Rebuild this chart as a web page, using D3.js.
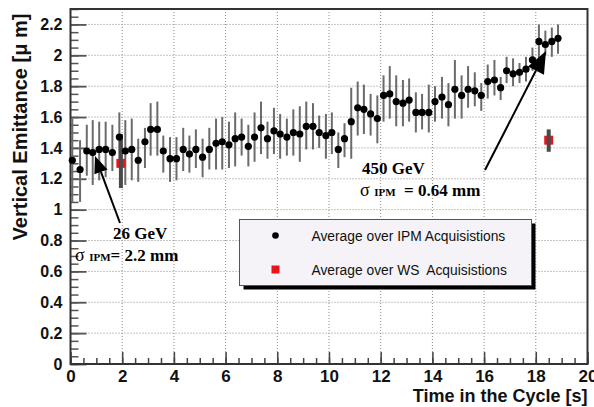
<!DOCTYPE html>
<html>
<head>
<meta charset="utf-8">
<script src="https://cdn.jsdelivr.net/npm/d3@7"></script>
<style>
  body { margin: 0; background: #fff; }
  svg { display: block; }
</style>
</head>
<body>
<div id="my_dataviz"></div>
<script>
// IPM averages: time [s], emittance [um], error bar low / high
const ipmTime = [0.07, 0.37, 0.63, 0.86, 1.11, 1.36, 1.62, 1.89, 2.12, 2.37, 2.62, 2.88, 3.10, 3.36, 3.59, 3.85, 4.10, 4.36, 4.60, 4.85,
  5.11, 5.37, 5.63, 5.87, 6.13, 6.37, 6.62, 6.88, 7.12, 7.37, 7.62, 7.87, 8.11, 8.37, 8.62, 8.87, 9.12, 9.38, 9.62, 9.88,
  10.11, 10.36, 10.60, 10.86, 11.11, 11.35, 11.61, 11.87, 12.11, 12.35, 12.60, 12.86, 13.10, 13.36, 13.60, 13.86, 14.10, 14.37, 14.62, 14.87,
  15.13, 15.38, 15.64, 15.89, 16.14, 16.40, 16.64, 16.87, 17.12, 17.37, 17.62, 17.87, 18.12, 18.37, 18.62, 18.86];
const ipmEmit = [1.32, 1.26, 1.38, 1.37, 1.39, 1.39, 1.37, 1.47, 1.38, 1.39, 1.32, 1.44, 1.52, 1.52, 1.38, 1.33, 1.33, 1.39, 1.36, 1.39,
  1.34, 1.39, 1.43, 1.44, 1.42, 1.46, 1.47, 1.41, 1.47, 1.53, 1.46, 1.51, 1.49, 1.47, 1.50, 1.49, 1.54, 1.54, 1.50, 1.48,
  1.50, 1.39, 1.46, 1.57, 1.66, 1.65, 1.62, 1.59, 1.74, 1.75, 1.70, 1.69, 1.71, 1.63, 1.63, 1.63, 1.70, 1.73, 1.68, 1.78,
  1.74, 1.78, 1.77, 1.74, 1.83, 1.84, 1.79, 1.90, 1.88, 1.89, 1.91, 1.97, 2.09, 2.07, 2.09, 2.11];
const ipmLow = [1.05, 1.05, 1.22, 1.16, 1.19, 1.21, 1.25, 1.31, 1.16, 1.19, 1.18, 1.27, 1.35, 1.35, 1.24, 1.18, 1.19, 1.25, 1.24, 1.27,
  1.21, 1.26, 1.26, 1.26, 1.27, 1.28, 1.35, 1.28, 1.31, 1.36, 1.33, 1.36, 1.33, 1.35, 1.35, 1.31, 1.39, 1.39, 1.40, 1.33,
  1.36, 1.27, 1.34, 1.33, 1.48, 1.49, 1.48, 1.43, 1.57, 1.59, 1.54, 1.54, 1.57, 1.50, 1.52, 1.50, 1.57, 1.59, 1.54, 1.59,
  1.59, 1.66, 1.67, 1.64, 1.72, 1.74, 1.71, 1.82, 1.80, 1.82, 1.83, 1.90, 1.97, 2.00, 1.99, 2.01];
const ipmHigh = [1.59, 1.45, 1.55, 1.58, 1.57, 1.57, 1.55, 1.63, 1.58, 1.59, 1.46, 1.53, 1.69, 1.70, 1.48, 1.47, 1.47, 1.53, 1.48, 1.52,
  1.46, 1.53, 1.59, 1.60, 1.57, 1.63, 1.59, 1.55, 1.63, 1.70, 1.57, 1.66, 1.62, 1.59, 1.65, 1.67, 1.70, 1.69, 1.61, 1.62,
  1.63, 1.50, 1.56, 1.79, 1.83, 1.81, 1.75, 1.74, 1.87, 1.93, 1.87, 1.84, 1.85, 1.76, 1.75, 1.81, 1.80, 1.86, 1.82, 1.97,
  1.87, 1.93, 1.89, 1.82, 1.94, 1.97, 1.86, 1.99, 1.98, 1.95, 1.99, 2.05, 2.20, 2.16, 2.18, 2.20];

// WS averages
const wsTime = [1.95, 18.5];
const wsEmit = [1.30, 1.45];
const wsLow = [1.14, 1.375];
const wsHigh = [1.49, 1.52];

const xTickValues = [0, 2, 4, 6, 8, 10, 12, 14, 16, 18, 20];
const yTickValues = [0, 0.2, 0.4, 0.6, 0.8, 1, 1.2, 1.4, 1.6, 1.8, 2, 2.2];
const legendLabels = ["Average over IPM Acquisistions", "Average over WS\u00a0 Acquisistions"];

const W = 594, H = 407;
const margin = {top: 9, right: 6.5, bottom: 43, left: 70.5};
const width = W - margin.left - margin.right,
      height = H - margin.top - margin.bottom;

const svg = d3.select("#my_dataviz")
  .append("svg")
  .attr("width", W)
  .attr("height", H)
  .append("g")
  .attr("transform", `translate(${margin.left},${margin.top})`);

const x = d3.scaleLinear().domain([0, 20]).range([0, width]);
const y = d3.scaleLinear().domain([0, 2.3]).range([height, 0]);

// dotted grid
svg.append("g").selectAll("line")
  .data(xTickValues.filter(d => d > 0 && d < 20))
  .join("line")
  .attr("x1", d => x(d)).attr("x2", d => x(d))
  .attr("y1", 0).attr("y2", height)
  .attr("stroke", "#8a8a8a").attr("stroke-width", 1)
  .attr("stroke-dasharray", "1,2");
svg.append("g").selectAll("line")
  .data(yTickValues.filter(d => d > 0))
  .join("line")
  .attr("x1", 0).attr("x2", width)
  .attr("y1", d => y(d)).attr("y2", d => y(d))
  .attr("stroke", "#8a8a8a").attr("stroke-width", 1)
  .attr("stroke-dasharray", "1,2");

// minor ticks
const fmt = d3.format("~g");
svg.append("g")
  .attr("transform", `translate(0,${height})`)
  .call(d3.axisBottom(x).ticks(40).tickSize(-6).tickFormat(""))
  .call(g => g.select(".domain").remove())
  .selectAll("line").attr("stroke", "#444").attr("stroke-width", 1.5);
svg.append("g")
  .call(d3.axisLeft(y).ticks(46).tickSize(-8).tickFormat(""))
  .call(g => g.select(".domain").remove())
  .selectAll("line").attr("stroke", "#555").attr("stroke-width", 1.5);

// major ticks + labels
const xAxis = svg.append("g")
  .attr("transform", `translate(0,${height})`)
  .call(d3.axisBottom(x).tickValues(xTickValues).tickSize(-12).tickPadding(6).tickFormat(fmt));
xAxis.select(".domain").remove();
xAxis.selectAll("line").attr("stroke", "#444").attr("stroke-width", 1.5);
xAxis.selectAll("text")
  .attr("font-family", "Liberation Sans, Arial, sans-serif")
  .attr("font-weight", "bold").attr("font-size", 17).attr("fill", "#111");

const yAxis = svg.append("g")
  .call(d3.axisLeft(y).tickValues(yTickValues).tickSize(-16).tickPadding(8).tickFormat(fmt));
yAxis.select(".domain").remove();
yAxis.selectAll("line").attr("stroke", "#555").attr("stroke-width", 1.8);
yAxis.selectAll("text")
  .attr("font-family", "Liberation Sans, Arial, sans-serif")
  .attr("font-weight", "bold").attr("font-size", 16).attr("fill", "#111");

// frame
svg.append("rect")
  .attr("width", width).attr("height", height)
  .attr("fill", "none").attr("stroke", "#333").attr("stroke-width", 2);

// axis titles
svg.append("text")
  .attr("x", width).attr("y", height + 38)
  .attr("text-anchor", "end")
  .attr("font-family", "Liberation Sans, Arial, sans-serif")
  .attr("font-weight", "bold").attr("font-size", 18).attr("fill", "#111")
  .text("Time in the Cycle [s]");
svg.append("text")
  .attr("transform", `translate(${-44},${118}) rotate(-90)`)
  .attr("text-anchor", "middle")
  .attr("font-family", "Liberation Sans, Arial, sans-serif")
  .attr("font-weight", "bold").attr("font-size", 20).attr("fill", "#111")
  .text("Vertical Emittance [\u03bc m]");

// IPM error bars and points
const ipm = ipmTime.map((t, i) => ({t, v: ipmEmit[i], lo: ipmLow[i], hi: ipmHigh[i]}));
svg.append("g").selectAll("line")
  .data(ipm)
  .join("line")
  .attr("x1", d => x(d.t)).attr("x2", d => x(d.t))
  .attr("y1", d => y(d.lo)).attr("y2", d => y(d.hi))
  .attr("stroke", "#6b6b6b").attr("stroke-width", 2);

// WS points
const ws = wsTime.map((t, i) => ({t, v: wsEmit[i], lo: wsLow[i], hi: wsHigh[i]}));
svg.append("g").selectAll("rect")
  .data(ws)
  .join("rect")
  .attr("x", d => x(d.t) - 4.5).attr("y", d => y(d.v) - 4.5)
  .attr("width", 9).attr("height", 9)
  .attr("fill", "#e8141c");
svg.append("g").selectAll("line")
  .data(ws)
  .join("line")
  .attr("x1", d => x(d.t)).attr("x2", d => x(d.t))
  .attr("y1", d => y(d.lo)).attr("y2", d => y(d.hi))
  .attr("stroke", "#4a4a4a").attr("stroke-width", 4);

svg.append("g").selectAll("circle")
  .data(ipm)
  .join("circle")
  .attr("cx", d => x(d.t)).attr("cy", d => y(d.v))
  .attr("r", 3.6)
  .attr("fill", "#000");

// legend
const lg = svg.append("g").attr("transform", `translate(${239.5 - margin.left},${219.5 - margin.top})`);
lg.append("rect").attr("x", 4).attr("y", 4).attr("width", 292).attr("height", 66).attr("fill", "#000");
lg.append("rect").attr("width", 292).attr("height", 66)
  .attr("fill", "#f5f3f7").attr("stroke", "#555").attr("stroke-width", 1);
lg.append("circle").attr("cx", 36).attr("cy", 16).attr("r", 3.3).attr("fill", "#000");
lg.append("rect").attr("x", 32).attr("y", 46).attr("width", 8).attr("height", 8).attr("fill", "#e8141c");
lg.selectAll("text.lab")
  .data(legendLabels)
  .join("text")
  .attr("class", "lab")
  .attr("x", 72).attr("y", (d, i) => 21 + i * 34)
  .attr("font-family", "Liberation Sans, Arial, sans-serif")
  .attr("font-size", 13.8).attr("fill", "#111")
  .text(d => d);

// annotations
function arrow(x1, y1, x2, y2, len, half) {
  const a = Math.atan2(y2 - y1, x2 - x1);
  const bx = x2 - len * Math.cos(a), by = y2 - len * Math.sin(a);
  svg.append("line")
    .attr("x1", x1 - margin.left).attr("y1", y1 - margin.top)
    .attr("x2", bx - margin.left).attr("y2", by - margin.top)
    .attr("stroke", "#000").attr("stroke-width", 2);
  const px = -Math.sin(a) * half, py = Math.cos(a) * half;
  svg.append("path")
    .attr("d", `M${x2 - margin.left},${y2 - margin.top}L${bx + px - margin.left},${by + py - margin.top}L${bx - px - margin.left},${by - py - margin.top}Z`)
    .attr("fill", "#000");
}
arrow(120, 223, 95, 156, 17, 7);
arrow(485, 170, 546, 51, 22, 9);

function label(xp, yp, parts) {
  const t = svg.append("text")
    .attr("x", xp - margin.left).attr("y", yp - margin.top)
    .attr("font-family", "Liberation Serif, 'Times New Roman', serif")
    .attr("font-weight", "bold").attr("fill", "#000");
  parts.forEach(p => t.append("tspan").attr("font-size", p[1]).attr("font-weight", p[2] || "bold").text(p[0]));
}
label(113, 239, [["26 GeV", 17]]);
label(75, 261, [["\u03c3 ", 18, "normal"], ["IPM", 11], ["= 2.2 mm", 17]]);
label(362, 174, [["450 GeV", 17]]);
label(360, 196, [["\u03c3 ", 18, "normal"], ["IPM", 11], ["\u00a0 = 0.64 mm", 17]]);
</script>
</body>
</html>
